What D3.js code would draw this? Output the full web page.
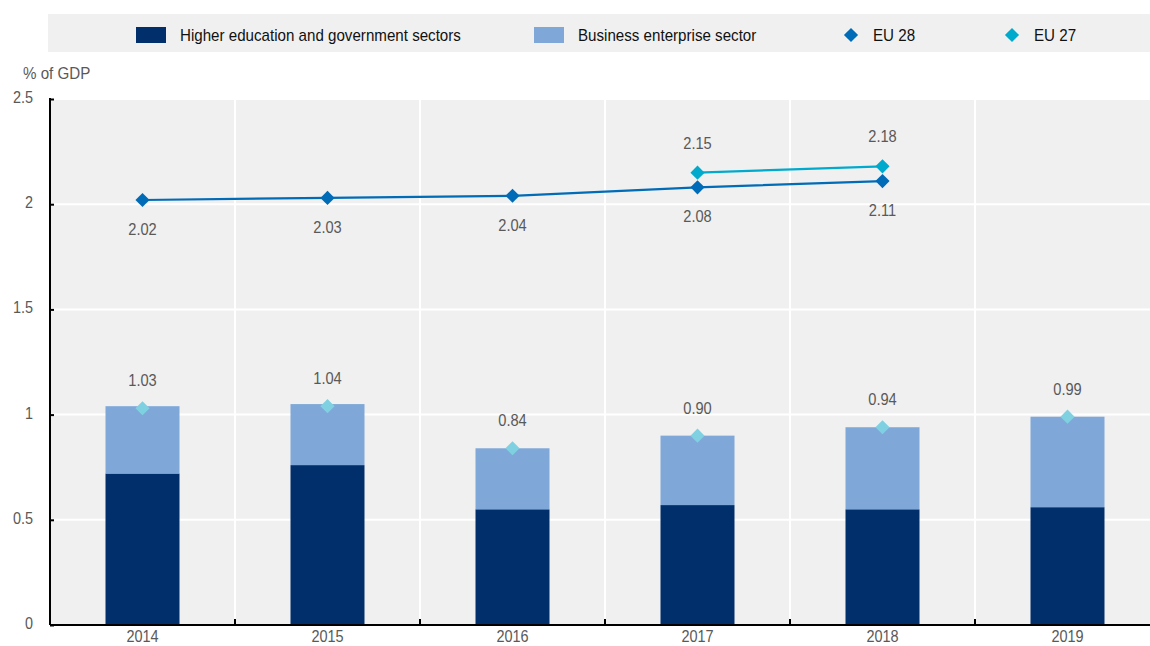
<!DOCTYPE html>
<html><head><meta charset="utf-8">
<script src="https://cdn.jsdelivr.net/npm/d3@7"></script>
<style>body{margin:0;background:#fff}svg{display:block}text{font-family:"Liberation Sans",Arial,sans-serif}</style>
</head><body><svg id="c" width="1150" height="646"></svg>
<script>
const years = ["2014","2015","2016","2017","2018","2019"];
const higherEdGov = [0.72,0.76,0.55,0.57,0.55,0.56];
const business = [0.32,0.29,0.29,0.33,0.39,0.43];
const total = [1.03,1.04,0.84,0.90,0.94,0.99];
const eu28 = [2.02,2.03,2.04,2.08,2.11,null];
const eu27 = [null,null,null,2.15,2.18,null];
const yTicks = [0,0.5,1,1.5,2,2.5];

const svg = d3.select("#c");
const L=50,R=1150,RS=1160,T=99,B=625;
const x = d3.scaleBand().domain(years).range([L,RS]).paddingInner(0.6).paddingOuter(0.3);
const xb = d3.scaleBand().domain(years).range([L,RS]);
const y = d3.scaleLinear().domain([0,2.5]).range([B,T]);
const grey="#595959";
const FS=17;

function condense(sel,f){
  sel.each(function(){
    const w=this.getComputedTextLength();
    d3.select(this).attr("textLength",(w*f).toFixed(1)).attr("lengthAdjust","spacingAndGlyphs");
  });
}

// legend
svg.append("rect").attr("x",48).attr("y",14).attr("width",1102).attr("height",38).attr("fill","#f0f0f0");
const lg = svg.append("g");
lg.append("rect").attr("x",136).attr("y",27).attr("width",30).attr("height",16).attr("fill","#002f6c");
lg.append("text").attr("x",180).attr("y",41).text("Higher education and government sectors");
lg.append("rect").attr("x",534).attr("y",27).attr("width",30).attr("height",16).attr("fill","#7fa8d8");
lg.append("text").attr("x",578).attr("y",41).text("Business enterprise sector");
const diamond = d3.symbol().type(d3.symbolDiamond2).size(128);
lg.append("path").attr("d",diamond).attr("transform","translate(851,35)").attr("fill","#006bb6");
lg.append("text").attr("x",873).attr("y",41).text("EU 28");
lg.append("path").attr("d",diamond).attr("transform","translate(1012,35)").attr("fill","#00aacc");
lg.append("text").attr("x",1034).attr("y",41).text("EU 27");
lg.selectAll("text").attr("font-size",FS).attr("fill","#111");
condense(lg.selectAll("text"),0.89);

// plot bg
svg.append("rect").attr("x",L).attr("y",T).attr("width",R-L).attr("height",B-T).attr("fill","#f0f0f0");
// grid
svg.append("g").selectAll("line").data(yTicks.slice(1)).join("line")
  .attr("x1",L).attr("x2",R).attr("y1",d=>y(d)).attr("y2",d=>y(d)).attr("stroke","#fff").attr("stroke-width",2);
svg.append("g").selectAll("line").data(years.slice(1)).join("line")
  .attr("x1",d=>xb(d)).attr("x2",d=>xb(d)).attr("y1",T).attr("y2",B).attr("stroke","#fff").attr("stroke-width",2);

// bars
svg.append("g").selectAll("rect").data(years).join("rect")
  .attr("x",d=>x(d)).attr("width",x.bandwidth())
  .attr("y",(d,i)=>y(higherEdGov[i])).attr("height",(d,i)=>y(0)-y(higherEdGov[i])).attr("fill","#002f6c");
svg.append("g").selectAll("rect").data(years).join("rect")
  .attr("x",d=>x(d)).attr("width",x.bandwidth())
  .attr("y",(d,i)=>y(higherEdGov[i]+business[i])).attr("height",(d,i)=>y(higherEdGov[i])-y(higherEdGov[i]+business[i])).attr("fill","#7fa8d8");

const cx = d=>xb(d)+xb.bandwidth()/2;
const labels = svg.append("g");
// total markers
svg.append("g").selectAll("path").data(years).join("path")
  .attr("d",diamond).attr("transform",(d,i)=>`translate(${cx(d)},${y(total[i])})`).attr("fill","#7fd1e1");
labels.selectAll("text.tot").data(years).join("text").attr("class","tot")
  .attr("x",cx).attr("y",(d,i)=>y(total[i])-22).attr("text-anchor","middle")
  .text((d,i)=>total[i].toFixed(2));

// lines
function drawLine(vals,color,labelDy,cls){
  const pts = years.map((d,i)=>[d,vals[i]]).filter(p=>p[1]!=null);
  svg.append("path").datum(pts).attr("fill","none").attr("stroke",color).attr("stroke-width",2.2)
    .attr("d",d3.line().x(p=>cx(p[0])).y(p=>y(p[1])));
  svg.append("g").selectAll("path").data(pts).join("path").attr("d",diamond)
    .attr("transform",p=>`translate(${cx(p[0])},${y(p[1])})`).attr("fill",color);
  labels.selectAll("text."+cls).data(pts).join("text").attr("class",cls)
    .attr("x",p=>cx(p[0])).attr("y",p=>y(p[1])+labelDy).attr("text-anchor","middle")
    .text(p=>p[1].toFixed(2));
}
drawLine(eu28,"#006bb6",35,"e28");
drawLine(eu27,"#00aacc",-24,"e27");
labels.raise();
labels.selectAll("text").attr("font-size",FS).attr("fill",grey);
condense(labels.selectAll("text"),0.86);

// axes
const ya = svg.append("g").attr("transform",`translate(${L},0)`)
  .call(d3.axisLeft(y).tickValues(yTicks).tickSize(-4).tickPadding(17).tickFormat(d3.format("")));
ya.select(".domain").attr("stroke","#000").attr("stroke-width",2).attr("d",`M0,${T-1}V${B}`);
ya.selectAll(".tick line").attr("stroke","#000").attr("stroke-width",2);
ya.selectAll(".tick text").attr("dy","0.2em");
ya.selectAll("text").attr("font-size",FS).attr("fill",grey).attr("font-family",null);
condense(ya.selectAll("text"),0.85);

const xa = svg.append("g").attr("transform",`translate(0,${B})`)
  .call(d3.axisBottom(xb).tickSize(0).tickPadding(5));
xa.select(".domain").attr("stroke","#000").attr("stroke-width",2).attr("d",`M${L},0H${R}`);
xa.selectAll("text").attr("font-size",FS).attr("fill",grey).attr("font-family",null);
condense(xa.selectAll("text"),0.85);
xa.selectAll(".btick").data(years.slice(1)).join("line").attr("class","btick")
  .attr("x1",d=>xb(d)).attr("x2",d=>xb(d)).attr("y1",0).attr("y2",-6).attr("stroke","#000").attr("stroke-width",2);

const ttl = svg.append("text").attr("x",23).attr("y",79).attr("font-size",FS).attr("fill",grey).text("% of GDP");
condense(ttl,0.89);
</script></body></html>
